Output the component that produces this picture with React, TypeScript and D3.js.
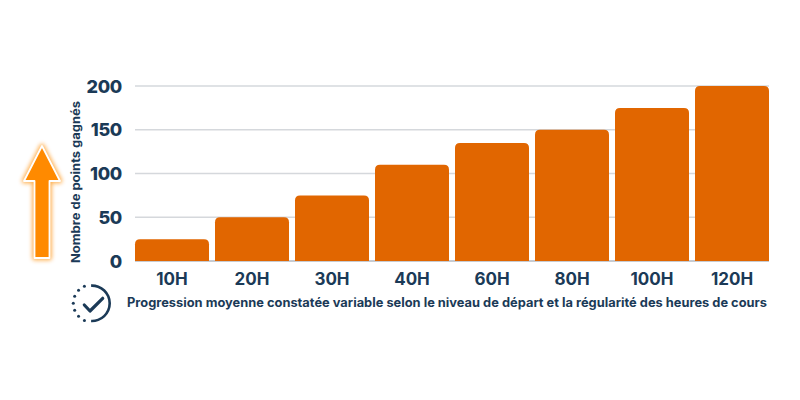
import React from "react";
import * as d3 from "d3";

const categories = ["10H", "20H", "30H", "40H", "60H", "80H", "100H", "120H"];
const points = [25, 50, 75, 110, 135, 150, 175, 200];
const yTicks = [0, 50, 100, 150, 200];
const yTitle = "Nombre de points gagnés";
const caption = "Progression moyenne constatée variable selon le niveau de départ et la régularité des heures de cours";

const FONT = "Inter, 'Noto Sans', sans-serif";
const NAVY = "#1b3a57";
const ORANGE = "#e16600";

export default function App() {
  const x = d3.scaleBand<string>().domain(categories).range([132, 772]).paddingInner(0.075).paddingOuter(0.0375);
  const y = d3.scaleLinear().domain([0, 200]).range([261, 86]);
  const xs = d3.scaleLinear().domain([0, 1]).range([135, 769]);
  const dots = d3.range(0, 7).map((i) => Math.PI * (1.133 + i * 0.1223));
  const arc = d3.arc()({ innerRadius: 16.4, outerRadius: 19, startAngle: -0.05, endAngle: Math.PI + 0.05 });
  const barPath = (c: string, v: number) => {
    const l = x(c) as number, w = x.bandwidth(), t = y(v), b = y(0), r = 5;
    return `M${l},${b}V${t + r}Q${l},${t} ${l + r},${t}H${l + w - r}Q${l + w},${t} ${l + w},${t + r}V${b}Z`;
  };
  return (
    <svg width={800} height={400} style={{ position: "absolute", left: 0, top: 0, background: "#fff" }} fontFamily={FONT}>
      <defs>
        <filter id="glow" x="-60%" y="-30%" width="220%" height="160%">
          <feGaussianBlur stdDeviation="2" />
        </filter>
      </defs>
      {yTicks.map((t) => (
        <g key={t}>
          <line x1={xs(0)} x2={xs(1)} y1={y(t)} y2={y(t)} stroke={t === 0 ? "#b4bac2" : "#d5d8dc"} strokeWidth={1.5} />
          <text x={122} y={y(t) + 6.5} textAnchor="end" fontSize={18} fontWeight={800} letterSpacing={-0.3} fill={NAVY}>{t}</text>
        </g>
      ))}
      {categories.map((c, i) => (
        <g key={c}>
          <path d={barPath(c, points[i])} fill={ORANGE} />
          <text x={(x(c) as number) + x.bandwidth() / 2} y={285} textAnchor="middle" fontSize={17} fontWeight={700} fill={NAVY}>{c}</text>
        </g>
      ))}
      <text transform="translate(80,263) rotate(-90)" fontSize={12} fontWeight={700} fill={NAVY} textLength={162} lengthAdjust="spacingAndGlyphs">{yTitle}</text>
      <text x={127} y={307} fontSize={12.5} fontWeight={700} fill={NAVY} textLength={640} lengthAdjust="spacingAndGlyphs">{caption}</text>
      <g>
        <path d="M42,146 L60,181 L49.5,181 L49.5,258 L34.5,258 L34.5,181 L24,181 Z" fill="#ff8c00" stroke="#ff8c00" strokeWidth={4.5} strokeLinejoin="round" filter="url(#glow)" opacity={0.7} />
        <path d="M42,146 L60,181 L49.5,181 L49.5,258 L34.5,258 L34.5,181 L24,181 Z" fill="#ff8a00" stroke="#fff" strokeWidth={1.8} strokeLinejoin="round" />
      </g>
      <g transform="translate(92,303.3)">
        <path d={arc as string} fill={NAVY} />
        {dots.map((a, i) => (
          <circle key={i} cx={18.7 * Math.sin(a)} cy={-18.7 * Math.cos(a)} r={1.5} fill={NAVY} />
        ))}
        <path d="M-7.7,1.7 L-2,7.7 L10.7,-5" fill="none" stroke={NAVY} strokeWidth={3.2} strokeLinecap="round" strokeLinejoin="round" />
      </g>
    </svg>
  );
}
